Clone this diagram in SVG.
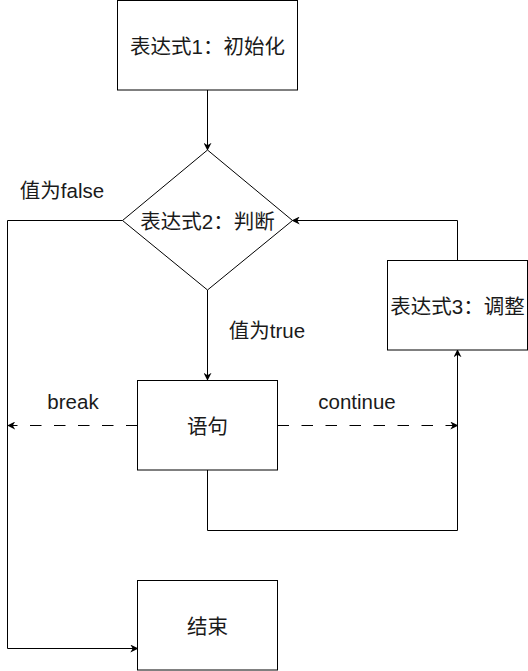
<svg xmlns="http://www.w3.org/2000/svg" width="528" height="671" viewBox="0 0 528 671">
<style>
.n{fill:#fff;stroke:#000;stroke-width:1}
.t{font-family:"Liberation Sans","Noto Sans CJK SC",sans-serif;font-size:20.5px;fill:#1a1a1a;text-anchor:middle;dominant-baseline:central}
.e{fill:none;stroke:#000;stroke-width:1}
.d{stroke-dasharray:11.5 12.5}
</style>
<defs>
<marker id="a" viewBox="0 0 10 10" refX="9" refY="5" markerWidth="8" markerHeight="8" markerUnits="userSpaceOnUse" orient="auto">
<path d="M0,0 L10,5 L0,10 L3,5 Z" fill="#000"/>
</marker>
</defs>
<rect width="528" height="671" fill="#fff"/>
<g id="edges">
<path class="e" d="M207.5,90 V150" marker-end="url(#a)"/>
<path class="e" d="M207.5,290 V380" marker-end="url(#a)"/>
<path class="e" d="M122.5,220.5 H7.5 V648.5 H137.5" marker-end="url(#a)"/>
<path class="e" d="M457.5,260 V220.5 H292.5" marker-end="url(#a)"/>
<path class="e" d="M207.5,470 V530.5 H457.5 V350" marker-end="url(#a)"/>
<path class="e d" d="M137.5,425.5 H8" marker-end="url(#a)"/>
<path class="e d" d="M277.5,425.5 H457.5" marker-end="url(#a)"/>
<text class="t" x="62" y="190">值为false</text>
<text class="t" x="267" y="330">值为true</text>
<text class="t" x="73" y="401">break</text>
<text class="t" x="357" y="401">continue</text>
</g>
<g id="init">
<rect class="n" x="117.5" y="0.5" width="180" height="89.5"/>
<text class="t" x="207.5" y="46">表达式1：初始化</text>
</g>
<g id="cond">
<path class="n" d="M207.5,150 L292.5,220.5 L207.5,290 L122.5,220.5 Z"/>
<text class="t" x="207.5" y="221">表达式2：判断</text>
</g>
<g id="update">
<rect class="n" x="387.5" y="260.5" width="140" height="89.5"/>
<text class="t" x="457.5" y="306">表达式3：调整</text>
</g>
<g id="stmt">
<rect class="n" x="137.5" y="380.5" width="140" height="89.5"/>
<text class="t" x="207.5" y="426">语句</text>
</g>
<g id="end">
<rect class="n" x="137.5" y="580.5" width="140" height="89.5"/>
<text class="t" x="207.5" y="626">结束</text>
</g>
</svg>
